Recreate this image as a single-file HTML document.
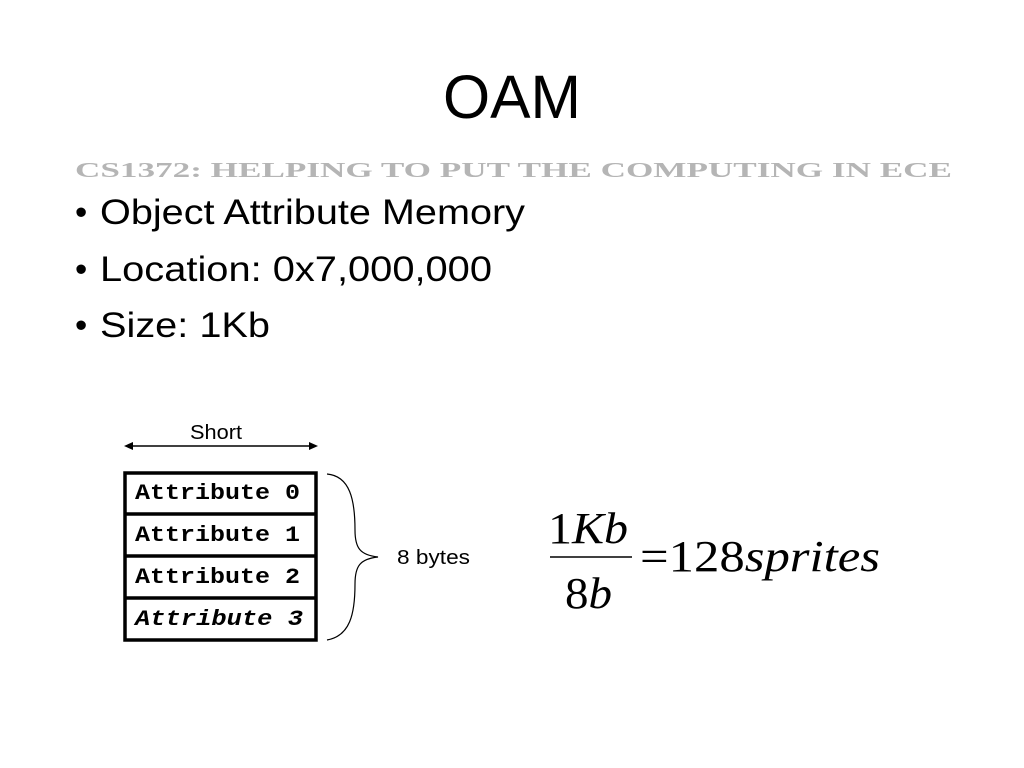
<!DOCTYPE html>
<html><head><style>body{margin:0;background:#fff}</style></head><body>
<svg width="1024" height="768" xmlns="http://www.w3.org/2000/svg" style="display:block">
<rect width="1024" height="768" fill="#fff"/>
<text x="443" y="118" font-family="Liberation Sans, sans-serif" font-size="61" fill="#000" textLength="138" lengthAdjust="spacingAndGlyphs">OAM</text>
<text x="75" y="177" font-family="Liberation Serif, serif" font-weight="bold" font-size="21" fill="#b5b5b5" textLength="877" lengthAdjust="spacingAndGlyphs">CS1372: HELPING TO PUT THE COMPUTING IN ECE</text>
<g font-family="Liberation Sans, sans-serif" font-size="35" fill="#000">
<text x="75" y="224">•</text><text x="100" y="224" textLength="425" lengthAdjust="spacingAndGlyphs">Object Attribute Memory</text>
<text x="75" y="281">•</text><text x="100" y="281" textLength="392" lengthAdjust="spacingAndGlyphs">Location: 0x7,000,000</text>
<text x="75" y="337">•</text><text x="100" y="337" textLength="170" lengthAdjust="spacingAndGlyphs">Size: 1Kb</text>
</g>
<text x="190" y="439" font-family="Liberation Sans, sans-serif" font-size="20" textLength="52" lengthAdjust="spacingAndGlyphs">Short</text>
<line x1="130" y1="446" x2="312" y2="446" stroke="#000" stroke-width="1.5"/>
<polygon points="124,446 133,442 133,450" fill="#000"/>
<polygon points="318,446 309,442 309,450" fill="#000"/>
<g fill="none" stroke="#000" stroke-width="3.5">
<rect x="125" y="473" width="191" height="167"/>
<line x1="125" y1="514" x2="316" y2="514"/>
<line x1="125" y1="556" x2="316" y2="556"/>
<line x1="125" y1="598" x2="316" y2="598"/>
</g>
<g font-family="Liberation Mono, monospace" font-weight="bold" font-size="22" fill="#000">
<text x="135" y="499" textLength="165" lengthAdjust="spacingAndGlyphs">Attribute 0</text>
<text x="135" y="541" textLength="165" lengthAdjust="spacingAndGlyphs">Attribute 1</text>
<text x="135" y="583" textLength="165" lengthAdjust="spacingAndGlyphs">Attribute 2</text>
<text x="135" y="625" font-style="italic" textLength="168" lengthAdjust="spacingAndGlyphs">Attribute 3</text>
</g>
<path d="M327,474 C350,476 355,500 355,530 C355,548 360,555 378,557 C360,559 355,566 355,584 C355,614 350,636 327,640" fill="none" stroke="#000" stroke-width="1.2"/>
<text x="397" y="564" font-family="Liberation Sans, sans-serif" font-size="20" textLength="73" lengthAdjust="spacingAndGlyphs">8 bytes</text>
<g font-family="Liberation Serif, serif" font-size="44" fill="#000">
<text x="548" y="543" textLength="80" lengthAdjust="spacingAndGlyphs">1<tspan font-style="italic">Kb</tspan></text>
<text x="565" y="608" textLength="47" lengthAdjust="spacingAndGlyphs"><tspan>8</tspan><tspan font-style="italic">b</tspan></text>
<text x="640" y="571" textLength="240" lengthAdjust="spacingAndGlyphs">=128<tspan font-style="italic">sprites</tspan></text>
</g>
<line x1="550" y1="557" x2="632" y2="557" stroke="#000" stroke-width="1.5"/>
</svg>
</body></html>
